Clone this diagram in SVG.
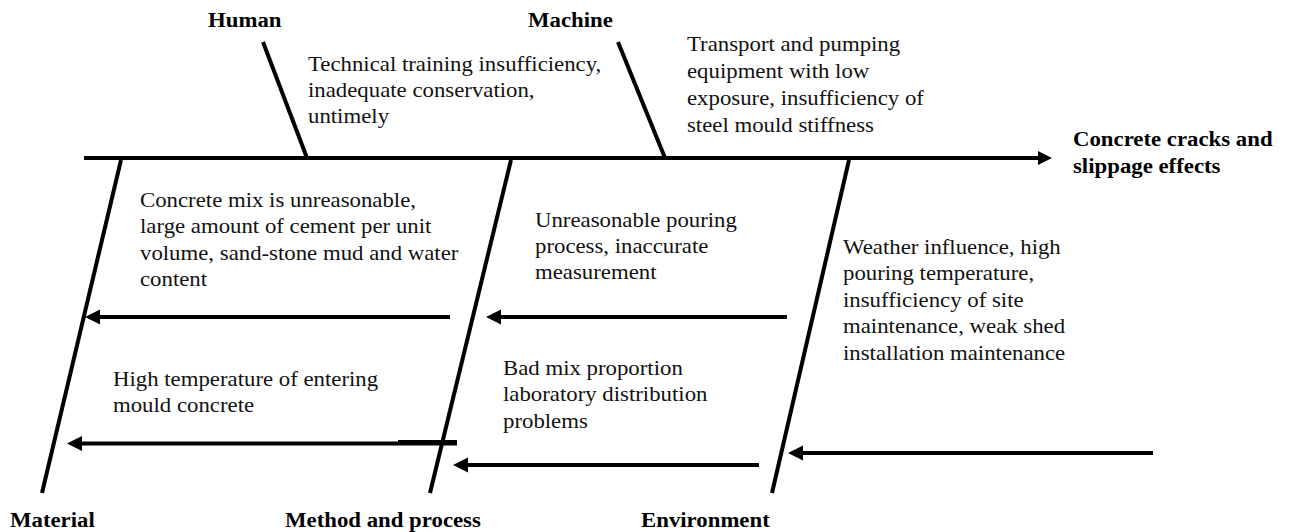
<svg xmlns="http://www.w3.org/2000/svg" width="1289" height="532" viewBox="0 0 1289 532">
  <style>
    .bone { stroke: #000; stroke-width: 4; fill: none; stroke-linecap: butt; }
    .arrow { stroke: #000; stroke-width: 4; fill: none; }
    .body { font-family: "Liberation Serif", "Times New Roman", serif; font-size: 20px; fill: #111; }
    .head { font-family: "Liberation Serif", "Times New Roman", serif; font-size: 20px; font-weight: bold; fill: #000; }
  </style>
  <defs>
    <marker id="tip" markerUnits="userSpaceOnUse" markerWidth="16" markerHeight="16" refX="1" refY="7.5" orient="auto">
      <path d="M0,0 L15,7.5 L0,15 z" fill="#000"/>
    </marker>
    <marker id="tipMain" markerUnits="userSpaceOnUse" markerWidth="16" markerHeight="16" refX="1" refY="7" orient="auto">
      <path d="M0,0 L14,7 L0,14 z" fill="#000"/>
    </marker>
  </defs>
  <rect width="1289" height="532" fill="#fff"/>

  <!-- connectors: spine, category bones and cause arrows -->
  <g id="connectors">
    <line class="arrow" x1="84" y1="158" x2="1039" y2="158" marker-end="url(#tipMain)"/>
    <line class="bone" x1="263" y1="42" x2="307" y2="158"/>
    <line class="bone" x1="618" y1="42" x2="665" y2="158"/>
    <line class="bone" x1="121" y1="160" x2="42" y2="493"/>
    <line class="bone" x1="511" y1="160" x2="430" y2="493"/>
    <line class="bone" x1="849" y1="160" x2="772" y2="493"/>
    <line class="arrow" x1="450" y1="317" x2="99" y2="317" marker-end="url(#tip)"/>
    <line class="arrow" x1="457" y1="443.5" x2="81" y2="443.5" marker-end="url(#tip)"/>
    <line class="arrow" x1="398" y1="442" x2="457" y2="442"/>
    <line class="arrow" x1="787" y1="317" x2="500" y2="317" marker-end="url(#tip)"/>
    <line class="arrow" x1="759" y1="465" x2="467" y2="465" marker-end="url(#tip)"/>
    <line class="arrow" x1="1153" y1="453" x2="802" y2="453" marker-end="url(#tip)"/>
  </g>

  <g id="effect">
    <text class="head" transform="translate(1073,146) scale(1.14,1)"><tspan x="0" dy="0">Concrete cracks and</tspan><tspan x="0" dy="27">slippage effects</tspan></text>
  </g>

  <g id="human">
    <text class="head" transform="translate(208,27) scale(1.14,1)">Human</text>
    <text class="body" transform="translate(308,71) scale(1.14,1)"><tspan x="0" dy="0">Technical training insufficiency,</tspan><tspan x="0" dy="26">inadequate conservation,</tspan><tspan x="0" dy="26">untimely</tspan></text>
  </g>

  <g id="machine">
    <text class="head" transform="translate(528,27) scale(1.14,1)">Machine</text>
    <text class="body" transform="translate(687,51) scale(1.14,1)"><tspan x="0" dy="0">Transport and pumping</tspan><tspan x="0" dy="27">equipment with low</tspan><tspan x="0" dy="27">exposure, insufficiency of</tspan><tspan x="0" dy="27">steel mould stiffness</tspan></text>
  </g>

  <g id="material">
    <text class="head" transform="translate(10,527) scale(1.14,1)">Material</text>
    <text class="body" transform="translate(140,207) scale(1.14,1)"><tspan x="0" dy="0">Concrete mix is unreasonable,</tspan><tspan x="0" dy="26.5">large amount of cement per unit</tspan><tspan x="0" dy="26.5">volume, sand-stone mud and water</tspan><tspan x="0" dy="26.5">content</tspan></text>
    <text class="body" transform="translate(113,386) scale(1.14,1)"><tspan x="0" dy="0">High temperature of entering</tspan><tspan x="0" dy="26">mould concrete</tspan></text>
  </g>

  <g id="method">
    <text class="head" transform="translate(285,527) scale(1.14,1)">Method and process</text>
    <text class="body" transform="translate(535,227) scale(1.14,1)"><tspan x="0" dy="0">Unreasonable pouring</tspan><tspan x="0" dy="26">process, inaccurate</tspan><tspan x="0" dy="26">measurement</tspan></text>
    <text class="body" transform="translate(503,375) scale(1.14,1)"><tspan x="0" dy="0">Bad mix proportion</tspan><tspan x="0" dy="26.5">laboratory distribution</tspan><tspan x="0" dy="26.5">problems</tspan></text>
  </g>

  <g id="environment">
    <text class="head" transform="translate(641,527) scale(1.14,1)">Environment</text>
    <text class="body" transform="translate(843,254) scale(1.14,1)"><tspan x="0" dy="0">Weather influence, high</tspan><tspan x="0" dy="26.5">pouring temperature,</tspan><tspan x="0" dy="26.5">insufficiency of site</tspan><tspan x="0" dy="26.5">maintenance, weak shed</tspan><tspan x="0" dy="26.5">installation maintenance</tspan></text>
  </g>
</svg>
